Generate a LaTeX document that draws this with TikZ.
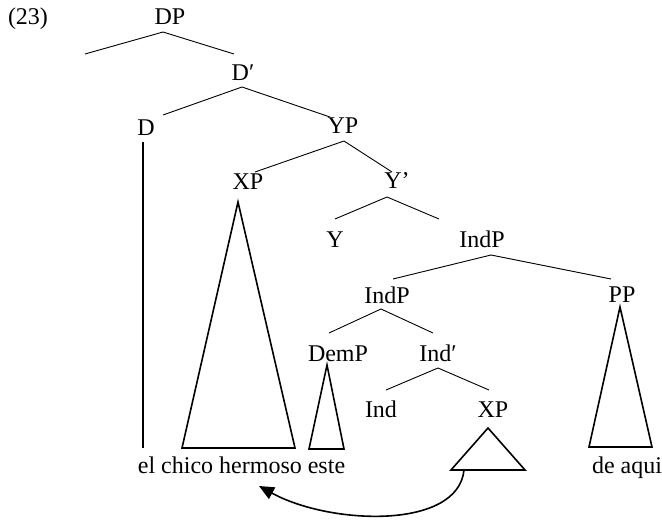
\documentclass[tikz,border=0pt]{standalone}
\usepackage{fontspec}
\setmainfont{Liberation Serif}
\usetikzlibrary{arrows.meta}

\begin{document}
\begin{tikzpicture}[x=1pt, y=-1pt,
  lab/.style={anchor=base, inner sep=0pt, font=\fontsize{24}{28}\selectfont},
  br/.style={line width=0.9pt},
  tri/.style={line width=1.6pt, line join=miter},
  arr/.style={-{Triangle[length=15pt, width=13pt]}, line width=1.6pt}]
  \useasboundingbox (0,0) rectangle (662,522);
  % labels
  \node[lab] (num) at (28,24) {(23)};
  \node[lab] (dp) at (170,24) {DP};
  \node[lab] (dbar) at (243,80) {D′};
  \node[lab] (d) at (146,135) {D};
  \node[lab] (yp) at (343,133) {YP};
  \node[lab] (xp) at (248,189) {XP};
  \node[lab] (ybar) at (397,188) {Y’};
  \node[lab] (y) at (335,247) {Y};
  \node[lab] (indp) at (482,247) {IndP};
  \node[lab] (indpb) at (387,303) {IndP};
  \node[lab] (pp) at (622,302) {PP};
  \node[lab] (demp) at (338,361) {DemP};
  \node[lab] (indbar) at (438,361) {Ind′};
  \node[lab] (ind) at (381,417) {Ind};
  \node[lab] (xpb) at (493,417) {XP};
  \node[lab] (words) at (241.5,473) {el chico hermoso este};
  \node[lab] (deaqui) at (627,473) {de aqui};
  % branches
  \draw[br] ([shift={(-85,30)}]dp.base) -- ([shift={(-7,8)}]dp.base) -- ([shift={(-9,-26)}]dbar.base);
  \draw[br] ([shift={(17,-20)}]d.base) -- ([shift={(-1,7)}]dbar.base) -- ([shift={(-13,-16)}]yp.base);
  \draw[br] ([shift={(7,-17)}]xp.base) -- ([shift={(1,8)}]yp.base) -- ([shift={(-5,-16)}]ybar.base);
  \draw[br] ([shift={(0,-28)}]y.base) -- ([shift={(-10,9)}]ybar.base) -- ([shift={(-43,-28)}]indp.base);
  \draw[br] ([shift={(6,-24)}]indpb.base) -- ([shift={(9,8)}]indp.base) -- ([shift={(-11,-23)}]pp.base);
  \draw[br] ([shift={(-9,-28)}]demp.base) -- ([shift={(-6,6)}]indpb.base) -- ([shift={(-5,-28)}]indbar.base);
  \draw[br] ([shift={(5,-27)}]ind.base) -- ([shift={(0,7)}]indbar.base) -- ([shift={(-4,-27)}]xpb.base);
  % head and triangles
  \draw[tri] ([shift={(-3,7)}]d.base) -- ([shift={(-98.5,-25)}]words.base);
  \draw[tri] ([shift={(-10,13)}]xp.base) -- ([shift={(-59.5,-25)}]words.base) -- ([shift={(53.5,-25)}]words.base) -- cycle;
  \draw[tri] ([shift={(-11,4)}]demp.base) -- ([shift={(67.5,-24)}]words.base) -- ([shift={(102.5,-24)}]words.base) -- cycle;
  \draw[tri] ([shift={(-2,5)}]pp.base) -- ([shift={(-38,-26)}]deaqui.base) -- ([shift={(25,-26)}]deaqui.base) -- cycle;
  \draw[tri] ([shift={(-5,11)}]xpb.base) -- ([shift={(-42,53)}]xpb.base) -- ([shift={(32,53)}]xpb.base) -- cycle;
  % movement
  \draw[arr] ([shift={(-29,53)}]xpb.base) .. controls +(-6,60) and +(71,39) .. ([shift={(17.5,13)}]words.base);
\end{tikzpicture}
\end{document}
